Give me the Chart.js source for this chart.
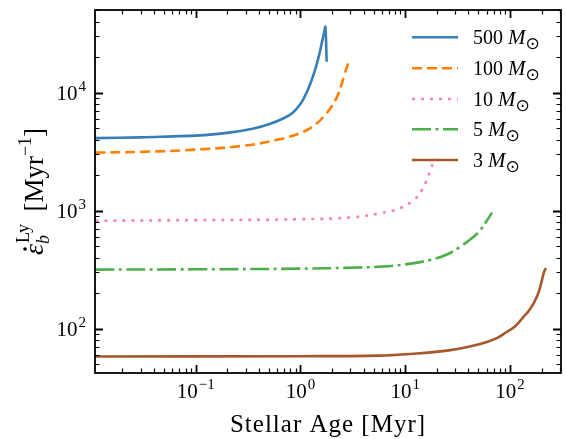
<!DOCTYPE html>
<html>
<head>
<meta charset="utf-8">
<title>Ly emission rate vs stellar age</title>
<script src="https://cdn.jsdelivr.net/npm/chart.js@4.4.1/dist/chart.umd.min.js"></script>
<style>
  html, body { margin: 0; padding: 0; background: #fff; }
  #wrap { width: 566px; height: 439px; }
</style>
</head>
<body>
<div id="wrap"><canvas id="lyChart" width="566" height="439"></canvas></div>
<script>
// Stellar age [Myr] and Ly rate [Myr^-1], one pair per mass
const age500 = [0.011, 0.03, 0.06, 0.1, 0.2, 0.35, 0.5, 0.7, 0.85, 1.0, 1.1, 1.2, 1.3, 1.4, 1.5, 1.6, 1.68, 1.73, 1.78];
const rate500 = [4120, 4180, 4260, 4320, 4560, 4950, 5400, 6100, 6800, 8000, 9300, 11000, 13300, 16300, 20500, 26500, 32000, 36000, 18300];

const age100 = [0.011, 0.03, 0.09, 0.27, 0.6, 1.08, 1.4, 1.67, 2.0, 2.24, 2.45, 2.65, 2.89];
const rate100 = [3100, 3150, 3270, 3530, 3980, 4680, 5400, 6270, 7700, 9250, 11500, 14500, 18300];

const age10 = [0.011, 0.1, 1, 3, 5.8, 9, 12.1, 14.5, 16, 17.4, 18.5, 19.1];
const rate10 = [820, 830, 845, 875, 950, 1050, 1230, 1500, 1800, 2210, 2550, 2780];

const age5 = [0.011, 0.1, 1, 3, 5.8, 10, 17.4, 25, 33.6, 45, 52.2, 60, 67.4];
const rate5 = [316, 318, 322, 328, 335, 350, 382, 425, 495, 600, 686, 820, 962];

const age3 = [0.011, 1, 5.8, 10, 25, 52, 75, 94, 105, 115, 125, 135, 148, 160, 172, 181, 190, 198, 205, 211, 217, 222];
const rate3 = [58, 58.3, 59, 60.5, 65, 74, 83, 94, 100, 107, 116, 126, 138, 152, 170, 187, 210, 240, 272, 300, 318, 324];

const massLabels = ["500", "100", "10", "5", "3"];
const xTickExps = [-1, 0, 1, 2];
const yTickExps = [2, 3, 4];

const colors = ["#377eb8", "#ff7f00", "#f781bf", "#4daf4a", "#a65628"];
const dashes = [[], [10, 5], [3, 6], [19, 4.5, 3, 4.5], []];
const serif = '"Liberation Serif", "DejaVu Serif", serif';

function toPoints(ages, rates) {
  return ages.map((a, i) => ({ x: a, y: rates[i] }));
}

const series = [
  toPoints(age500, rate500),
  toPoints(age100, rate100),
  toPoints(age10, rate10),
  toPoints(age5, rate5),
  toPoints(age3, rate3),
];

// "10" with a raised exponent; y is the baseline of "10"
function drawPower(ctx, exp, x, y, align) {
  const sup = exp < 0 ? "\u2212" + Math.abs(exp) : String(exp);
  ctx.font = `21px ${serif}`;
  const wb = ctx.measureText("10").width;
  ctx.font = `15px ${serif}`;
  const ws = ctx.measureText(sup).width;
  const total = wb + 1 + ws;
  const left = align === "center" ? x - total / 2 : x - total;
  ctx.textAlign = "left";
  ctx.textBaseline = "alphabetic";
  ctx.font = `21px ${serif}`;
  ctx.fillText("10", left, y);
  ctx.font = `15px ${serif}`;
  ctx.fillText(sup, left + wb + 1, y - 9);
}

// inward ticks on all four sides, log decades with 2..9 minors
function drawLogTicks(ctx, scale, area, horizontal) {
  const lo = Math.floor(Math.log10(scale.min));
  const hi = Math.ceil(Math.log10(scale.max));
  for (let e = lo; e <= hi; e++) {
    for (let m = 1; m <= 9; m++) {
      const v = m * Math.pow(10, e);
      if (v < scale.min || v > scale.max) continue;
      const p = Math.round(scale.getPixelForValue(v)) + 0.5;
      const len = m === 1 ? 8 : 4.5;
      ctx.lineWidth = m === 1 ? 1.8 : 1.2;
      ctx.beginPath();
      if (horizontal) {
        ctx.moveTo(p, area.bottom); ctx.lineTo(p, area.bottom - len);
        ctx.moveTo(p, area.top); ctx.lineTo(p, area.top + len);
      } else {
        ctx.moveTo(area.left, p); ctx.lineTo(area.left + len, p);
        ctx.moveTo(area.right, p); ctx.lineTo(area.right - len, p);
      }
      ctx.stroke();
    }
  }
}

const decorPlugin = {
  id: "decor",
  afterDraw(chart) {
    const ctx = chart.ctx;
    const area = chart.chartArea;
    const xs = chart.scales.x;
    const ys = chart.scales.y;
    ctx.save();
    ctx.strokeStyle = "#000";
    ctx.fillStyle = "#000";

    // frame
    ctx.lineWidth = 1.8;
    ctx.strokeRect(area.left, area.top, area.right - area.left, area.bottom - area.top);
    drawLogTicks(ctx, xs, area, true);
    drawLogTicks(ctx, ys, area, false);

    // tick labels
    xTickExps.forEach((e) => {
      drawPower(ctx, e, xs.getPixelForValue(Math.pow(10, e)), 398, "center");
    });
    yTickExps.forEach((e) => {
      drawPower(ctx, e, 86, ys.getPixelForValue(Math.pow(10, e)) + 7, "right");
    });

    // x title
    ctx.font = `25px ${serif}`;
    ctx.letterSpacing = "1px";
    ctx.textAlign = "center";
    ctx.fillText("Stellar Age [Myr]", (area.left + area.right) / 2, 432);
    ctx.letterSpacing = "0px";

    // y title, rotated: eps-dot_b^Ly [Myr^-1]
    ctx.save();
    ctx.translate(43, (area.top + area.bottom) / 2);
    ctx.rotate(-Math.PI / 2);
    ctx.textAlign = "left";
    const parts = [
      { t: "\u03b5", f: `italic 28px ${serif}`, dy: 0 },
      { t: "b", f: `italic 18px ${serif}`, dy: 6, stack: "Ly", sf: `18px ${serif}` },
      { t: "  [Myr", f: `27px ${serif}`, dy: 0 },
      { t: "\u22121", f: `18px ${serif}`, dy: -12 },
      { t: "]", f: `27px ${serif}`, dy: 0 },
    ];
    let total = 0;
    parts.forEach((p) => {
      ctx.font = p.f;
      p.w = ctx.measureText(p.t).width;
      if (p.stack) {
        ctx.font = p.sf;
        p.w = Math.max(p.w, ctx.measureText(p.stack).width);
      }
      total += p.w;
    });
    let cx = -total / 2;
    parts.forEach((p, i) => {
      ctx.font = p.f;
      ctx.fillText(p.t, cx, p.dy);
      if (i === 0) {
        // the dot above epsilon
        ctx.beginPath();
        ctx.arc(cx + p.w * 0.55, -18, 1.8, 0, Math.PI * 2);
        ctx.fill();
      }
      if (p.stack) {
        ctx.font = p.sf;
        ctx.fillText(p.stack, cx + 1, -14);
      }
      cx += p.w;
    });
    ctx.restore();

    // legend
    const rowY = [37.3, 68.3, 99, 129.3, 160];
    massLabels.forEach((m, i) => {
      const y = rowY[i];
      ctx.strokeStyle = colors[i];
      ctx.lineWidth = 2.6;
      ctx.setLineDash(dashes[i]);
      ctx.beginPath();
      ctx.moveTo(412, y);
      ctx.lineTo(458, y);
      ctx.stroke();
      ctx.setLineDash([]);

      ctx.fillStyle = "#000";
      ctx.textAlign = "left";
      let tx = 473;
      ctx.font = `20px ${serif}`;
      ctx.fillText(m + " ", tx, y + 7);
      tx += ctx.measureText(m + " ").width;
      ctx.font = `italic 21px ${serif}`;
      ctx.fillText("M", tx, y + 7);
      tx += ctx.measureText("M").width;
      ctx.font = '17px "DejaVu Sans", sans-serif';
      ctx.fillText("\u2299", tx, y + 12);
    });
    ctx.restore();
  },
};

const ctx = document.getElementById("lyChart");
new Chart(ctx, {
  type: "line",
  data: {
    datasets: series.map((pts, i) => ({
      label: massLabels[i] + " M\u2299",
      data: pts,
      borderColor: colors[i],
      borderWidth: 2.6,
      borderDash: dashes[i],
      pointRadius: 0,
      fill: false,
      tension: 0.4,
    })),
  },
  options: {
    responsive: false,
    animation: false,
    events: [],
    layout: { padding: { left: 95, right: 5, top: 10, bottom: 66 } },
    scales: {
      x: { type: "logarithmic", display: false, min: 0.01094, max: 307 },
      y: { type: "logarithmic", display: false, min: 42, max: 50200 },
    },
    plugins: {
      legend: { display: false },
      tooltip: { enabled: false },
    },
  },
  plugins: [decorPlugin],
});
</script>
</body>
</html>
